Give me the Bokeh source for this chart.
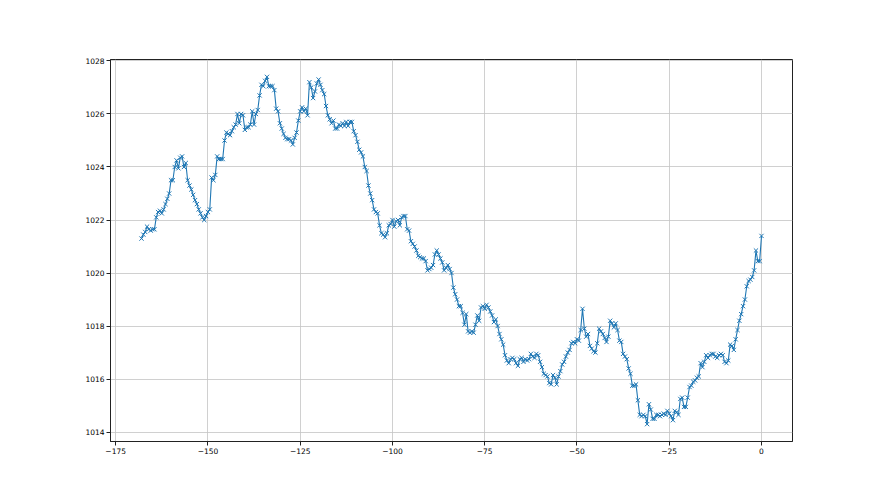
import numpy as np
from bokeh.plotting import figure
from bokeh.models import Range1d, FixedTicker, CustomJSTickFormatter
from bokeh.embed import file_html
from bokeh.resources import INLINE

# pressure readings, every half hour from -168 h to 0 h
pressure = [
    1021.3, 1021.45, 1021.55, 1021.75, 1021.65, 1021.6, 1021.65, 1021.65, 1022.1, 1022.3,
    1022.35, 1022.25, 1022.4, 1022.6, 1022.8, 1023.0, 1023.5, 1023.5, 1024.0, 1024.25,
    1023.95, 1024.35, 1024.4, 1024.0, 1024.15, 1023.5, 1023.3, 1023.15, 1022.95, 1022.75,
    1022.6, 1022.4, 1022.25, 1022.1, 1022.0, 1022.15, 1022.3, 1022.4, 1023.6, 1023.5,
    1023.7, 1024.4, 1024.3, 1024.3, 1024.3, 1025.0, 1025.3, 1025.25, 1025.2, 1025.35,
    1025.5, 1025.6, 1026.0, 1025.65, 1026.0, 1025.95, 1025.4, 1025.5, 1025.5, 1025.6,
    1026.1, 1025.6, 1026.0, 1026.15, 1026.7, 1027.1, 1027.05, 1027.25, 1027.4, 1027.05,
    1027.05, 1027.05, 1026.9, 1026.2, 1026.1, 1025.65, 1025.45, 1025.25, 1025.1, 1025.05,
    1025.05, 1025.0, 1024.85, 1025.1, 1025.3, 1025.75, 1026.1, 1026.25, 1026.1, 1026.2,
    1025.95, 1027.2, 1027.0, 1026.6, 1026.85, 1027.15, 1027.3, 1027.1, 1026.9, 1026.75,
    1026.3, 1025.95, 1025.8, 1025.65, 1025.75, 1025.45, 1025.45, 1025.6, 1025.55, 1025.65,
    1025.55, 1025.7, 1025.55, 1025.7, 1025.7, 1025.35, 1025.2, 1024.95, 1024.65, 1024.55,
    1024.4, 1024.0, 1023.85, 1023.3, 1023.0, 1022.75, 1022.4, 1022.3, 1022.25, 1021.8,
    1021.5, 1021.45, 1021.35, 1021.5, 1021.8, 1021.85, 1022.0, 1021.75, 1021.95, 1022.0,
    1021.8, 1022.1, 1022.15, 1022.15, 1021.65, 1021.6, 1021.2, 1021.1, 1021.0, 1020.85,
    1020.65, 1020.6, 1020.55, 1020.55, 1020.45, 1020.1, 1020.15, 1020.2, 1020.3, 1020.7,
    1020.85, 1020.7, 1020.55, 1020.4, 1020.1, 1020.2, 1020.3, 1020.15, 1020.0, 1019.45,
    1019.2, 1019.0, 1018.75, 1018.75, 1018.5, 1018.05, 1018.45, 1017.8, 1017.75, 1017.8,
    1017.75, 1018.05, 1018.4, 1018.2, 1018.7, 1018.75, 1018.65, 1018.8, 1018.7, 1018.55,
    1018.4, 1018.15, 1018.25, 1018.0, 1017.7, 1017.5, 1017.3, 1016.9, 1016.7, 1016.6,
    1016.75, 1016.8, 1016.75, 1016.6, 1016.5, 1016.75, 1016.8, 1016.65, 1016.75, 1016.7,
    1016.75, 1016.95, 1016.85, 1016.8, 1016.95, 1016.9, 1016.65, 1016.45, 1016.2, 1016.15,
    1016.1, 1015.85, 1015.8, 1016.15, 1016.05, 1015.8, 1016.1, 1016.3, 1016.55, 1016.65,
    1016.85, 1017.0, 1017.1, 1017.35, 1017.4, 1017.35, 1017.5, 1017.45, 1017.85, 1018.65,
    1017.9, 1017.6, 1017.7, 1017.25, 1017.15, 1017.05, 1017.0, 1017.35, 1017.9, 1017.8,
    1017.7, 1017.55, 1017.4, 1017.6, 1018.2, 1018.1, 1017.95, 1018.1, 1017.85, 1017.45,
    1017.4, 1016.95, 1016.85, 1016.75, 1016.4, 1016.2, 1015.75, 1015.75, 1015.8, 1015.2,
    1014.65, 1014.6, 1014.65, 1014.6, 1014.3, 1015.05, 1014.85, 1014.5, 1014.5, 1014.65,
    1014.65, 1014.6, 1014.65, 1014.7, 1014.65, 1014.8, 1014.7, 1014.6, 1014.45, 1014.8,
    1014.75, 1014.65, 1015.25, 1015.3, 1014.95, 1014.95, 1015.3, 1015.7, 1015.75, 1015.9,
    1015.95, 1016.05, 1016.1, 1016.6, 1016.45, 1016.65, 1016.9, 1016.8, 1016.9, 1016.95,
    1016.95, 1016.85, 1016.8, 1016.9, 1016.95, 1016.9, 1016.65, 1016.6, 1016.7, 1017.3,
    1017.25, 1017.1, 1017.5, 1017.85, 1018.2, 1018.45, 1018.75, 1019.0, 1019.5, 1019.7,
    1019.75, 1019.85, 1020.1, 1020.85, 1020.45, 1020.45, 1021.4,
]
hours = list(np.linspace(-168, 0, len(pressure)))

x_ticks = [-175, -150, -125, -100, -75, -50, -25, 0]
y_ticks = [1014, 1016, 1018, 1020, 1022, 1024, 1026, 1028]

xmin, xmax = min(hours), max(hours)
ymin, ymax = min(pressure), max(pressure)
xpad = 0.05 * (xmax - xmin)
ypad = 0.05 * (ymax - ymin)

p = figure(width=872, height=487, output_backend="svg", toolbar_location=None,
           x_range=Range1d(xmin - xpad, xmax + xpad),
           y_range=Range1d(ymin - ypad, ymax + ypad),
           min_border_left=110, min_border_right=80,
           min_border_top=59, min_border_bottom=46)

p.background_fill_color = "white"
p.border_fill_color = "white"
p.outline_line_color = "#222222"
p.outline_line_width = 1

p.line(hours, pressure, line_color="#1f77b4", line_width=1.1)
p.scatter(hours, pressure, marker="x", size=6, line_color="#1f77b4", line_width=1)

fmt = CustomJSTickFormatter(code="return tick < 0 ? '\\u2212' + Math.abs(tick) : tick.toString();")

for ax, ticks in ((p.xaxis, x_ticks), (p.yaxis, y_ticks)):
    ax.ticker = FixedTicker(ticks=ticks)
    ax.minor_tick_line_color = None
    ax.major_tick_in = 0
    ax.major_tick_out = 4
    ax.major_tick_line_color = "#222222"
    ax.axis_line_color = "#222222"
    ax.major_label_text_font = "DejaVu Sans"
    ax.major_label_text_font_size = "7.5px"
    ax.major_label_text_color = "black"
    ax.major_label_standoff = 2
p.xaxis.formatter = fmt

p.grid.grid_line_color = "#c4c4c4"
p.grid.grid_line_width = 0.8
p.xgrid.ticker = FixedTicker(ticks=x_ticks)
p.ygrid.ticker = FixedTicker(ticks=y_ticks)

open("out.html", "w").write(file_html(p, INLINE))
